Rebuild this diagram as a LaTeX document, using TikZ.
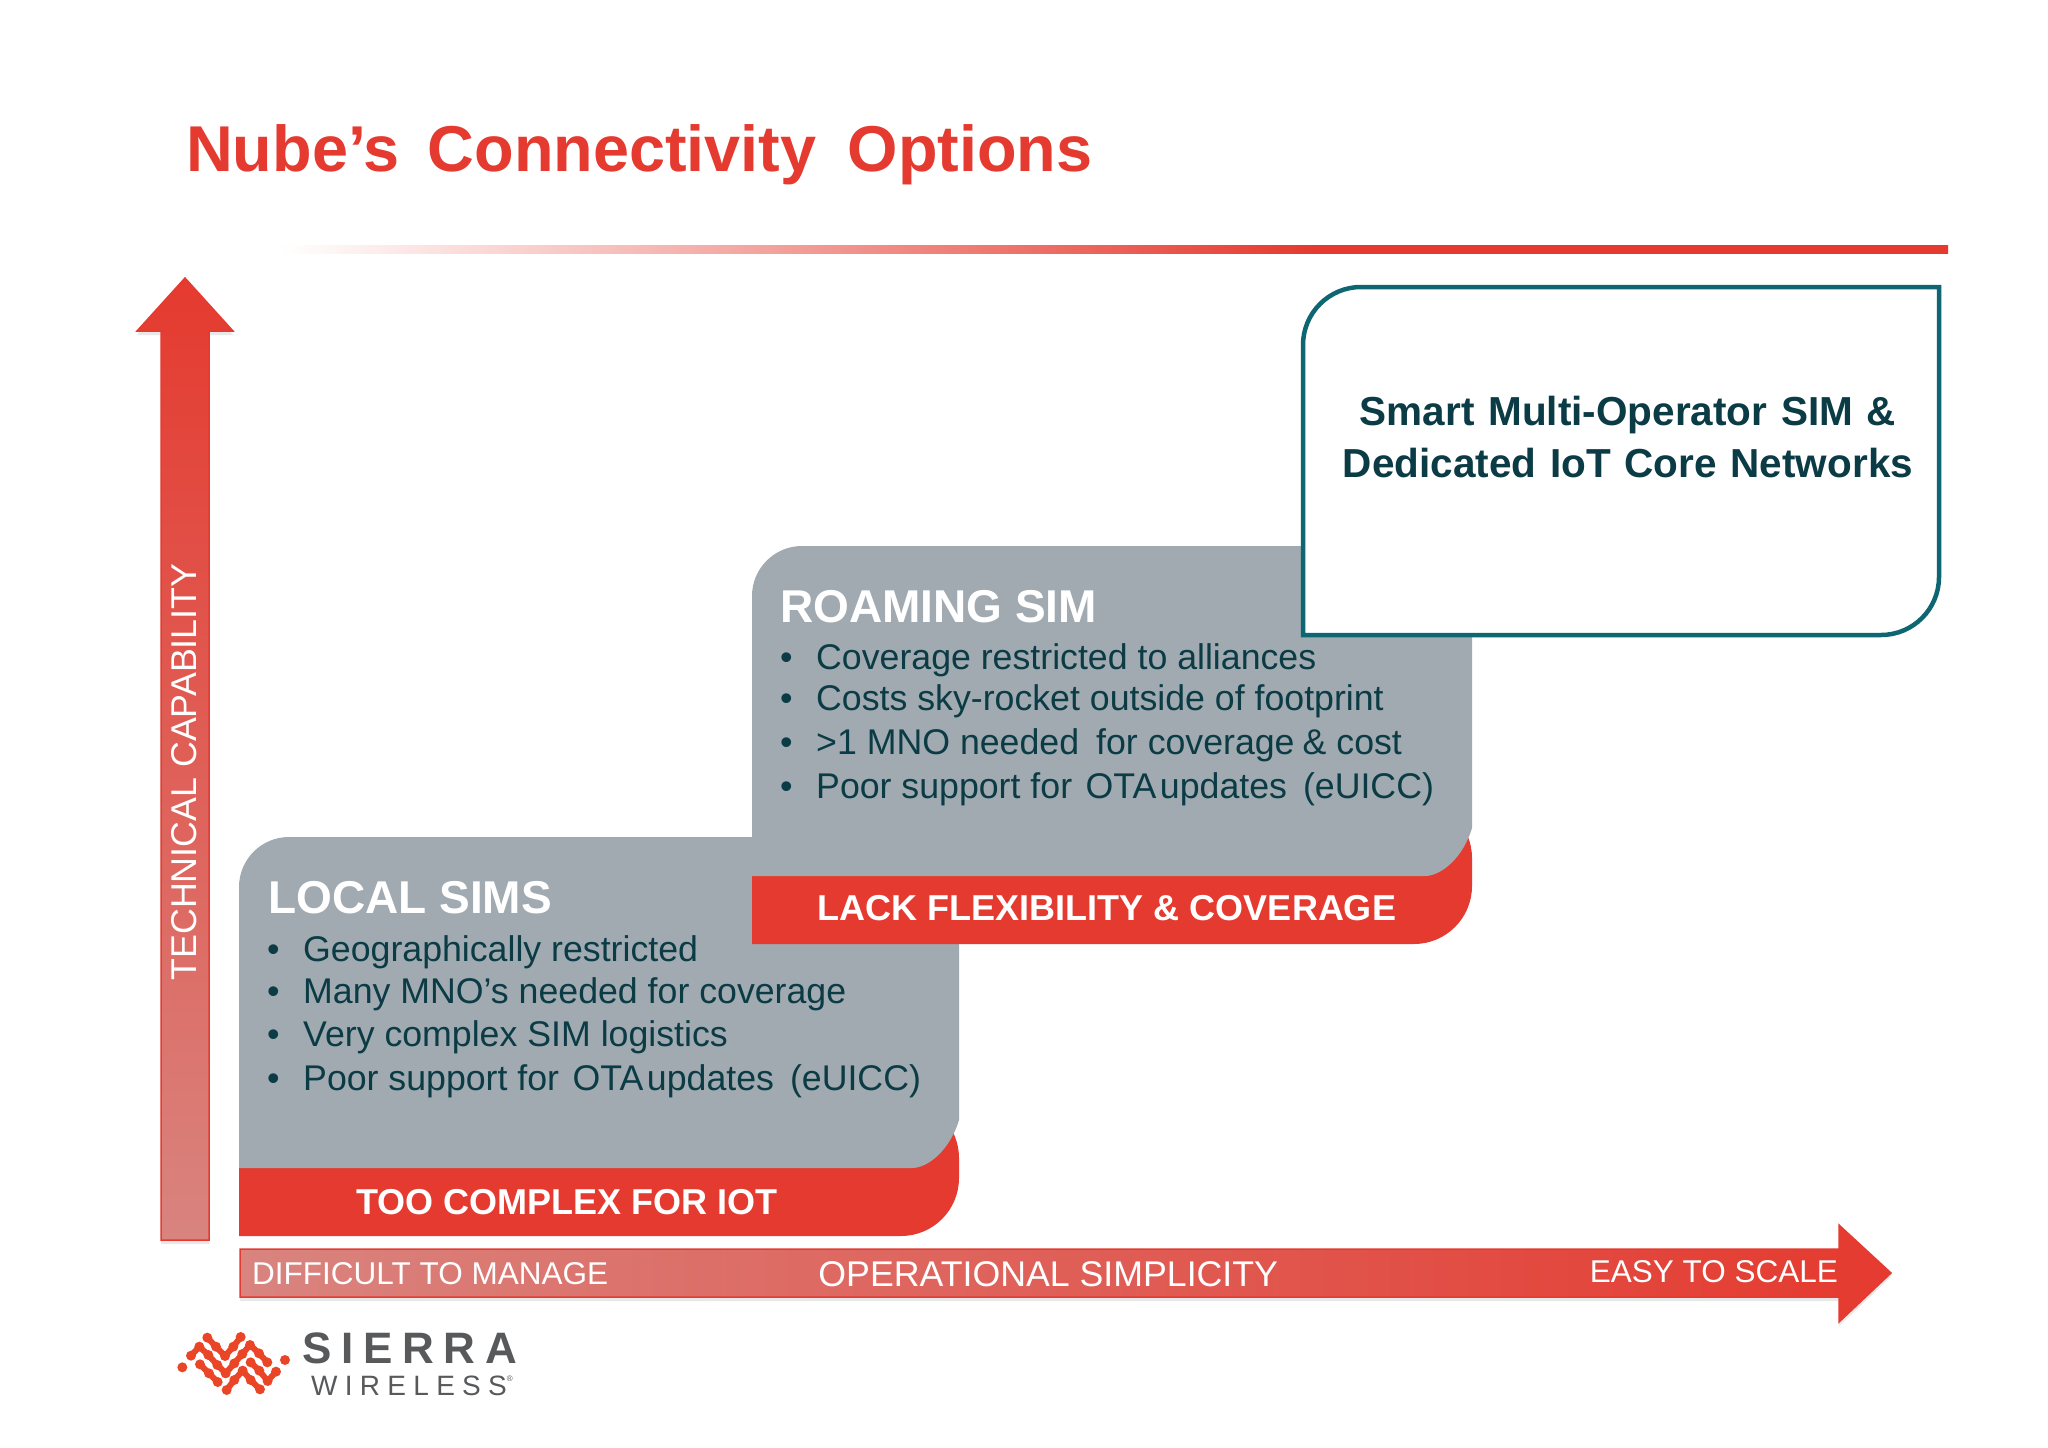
\documentclass[tikz,border=0pt]{standalone}
\usepackage{fontspec}
\setmainfont{Liberation Sans}
\newfontfamily\sierrafont[LetterSpace=22]{Liberation Sans}
\newfontfamily\wirelessfont[LetterSpace=26]{Liberation Sans}
\usepackage{xcolor}
\usetikzlibrary{positioning, shadows}

\definecolor{sierrared}{HTML}{E53A2F}
\definecolor{fadedred}{HTML}{D9847F}
\definecolor{cardgrey}{HTML}{A0AAB0}
\definecolor{darkteal}{HTML}{0B3B45}
\definecolor{lineteal}{HTML}{0F6673}
\definecolor{logogrey}{HTML}{58595B}
\definecolor{logored}{HTML}{EA4527}
\pgfdeclarehorizontalshading{rulefade}{100bp}{color(0bp)=(white); color(25bp)=(white);
  color(56bp)=(sierrared); color(100bp)=(sierrared)}
\newcommand{\titlewords}{\spaceskip=.43em\relax}
\newcommand{\smartwords}{\spaceskip=.34em\relax}

\tikzset{
  redstrip/.style={fill=sierrared},
  greycard/.style={fill=cardgrey},
  axisarrow/.style={draw=sierrared, line width=1.5pt, drop shadow={shadow xshift=0pt, shadow yshift=-4pt, opacity=.18}},
  bulletdot/.style={anchor=base west, inner sep=0pt, text=darkteal, font=\fontsize{35.7}{43}\selectfont},
  bullettext/.style={anchor=base west, inner sep=0pt, text=darkteal, font=\fontsize{35.7}{43}\selectfont},
  cardhead/.style={anchor=base west, inner sep=0pt, text=white, font=\fontsize{46}{50}\selectfont\bfseries},
  striptext/.style={inner sep=0pt, text=white, font=\fontsize{36}{40}\selectfont\bfseries},
  axistext/.style={inner sep=0pt, text=white, font=\fontsize{31.5}{36}\selectfont},
  logochain/.style={draw=logored, line width=6pt, line join=round, line cap=round},
}

\begin{document}
\begin{tikzpicture}[x=1pt, y=-1pt]
\useasboundingbox (0,0) rectangle (2048,1448);

\node[anchor=base west, inner sep=0pt, text=sierrared, font=\fontsize{64.8}{70}\selectfont\bfseries] (title) at (186,171) {\titlewords Nube’s Connectivity\hspace{.05em} Options};
\fill[shading=rulefade] (280,245) rectangle (1948,253);

% axes
\path[axisarrow, top color=sierrared, bottom color=fadedred] (161,1240) -- (161,331) -- (137,331) -- (185,278) -- (233,331) -- (209,331) -- (209,1240) -- cycle;
\path[axisarrow, left color=fadedred, right color=sierrared] (240,1249) -- (1839,1249) -- (1839,1225) -- (1891,1273) -- (1839,1322) -- (1839,1297) -- (240,1297) -- cycle;
\node[axistext, rotate=90, font=\fontsize{35.8}{40}\selectfont] (techcap) at (184,772) {TECHNICAL CAPABILITY};
\node[axistext, anchor=west] (difficult) at (252,1274) {DIFFICULT TO MANAGE};
\node[axistext, font=\fontsize{35.7}{40}\selectfont, right=210pt of difficult] (opsimple) {OPERATIONAL SIMPLICITY};
\node[axistext, anchor=east] (easy) at (1838,1272) {EASY TO SCALE};

% local sims
\fill[redstrip] (239,1100) -- (239,1236) [rounded corners=58pt] -- (959,1236) -- (959,1100) [sharp corners] -- cycle;
\fill[greycard] (239,1168) [rounded corners=50pt] -- (239,837) [sharp corners] -- (959,837) -- (959,1120) .. controls (950,1150) and (928,1168) .. (912,1168) -- cycle;
\node[cardhead] (localhead) at (268,913) {LOCAL SIMS};
\foreach \y/\txt [count=\i] in {961/Geographically restricted, 1003/Many MNO’s needed for coverage, 1046/Very complex SIM logistics, 1090/Poor support for\hspace{.1em} OTA\hspace{.1em}updates\hspace{.45em}(eUICC)}{
  \node[bulletdot, name=localdot\i] at (267,\y) {•};
  \node[bullettext, name=localtext\i] at (303,\y) {\txt};
}
\node[striptext] (toocomplex) at (567,1202) {TOO COMPLEX FOR IOT};

% roaming sim
\fill[redstrip] (752,800) -- (752,944) [rounded corners=58pt] -- (1472,944) -- (1472,800) [sharp corners] -- cycle;
\fill[greycard] (752,876) [rounded corners=50pt] -- (752,546) [sharp corners] -- (1472,546) -- (1472,828) .. controls (1463,858) and (1441,876) .. (1425,876) -- cycle;
\node[cardhead] (roamhead) at (780,622) {ROAMING SIM};
\foreach \y/\txt [count=\i] in {669/Coverage restricted to alliances, 710/Costs sky-rocket outside of footprint, 754/>1 MNO needed\hspace{.2em} for coverage\hspace{-.05em} \& cost, 798/Poor support for\hspace{.1em} OTA\hspace{.1em}updates\hspace{.45em}(eUICC)}{
  \node[bulletdot, name=roamdot\i] at (780,\y) {•};
  \node[bullettext, name=roamtext\i] at (816,\y) {\txt};
}
\node[striptext] (lackflex) at (1107,908) {LACK FLEXIBILITY \& COVERAGE};

% smart sim
\draw[line width=4.5pt, draw=lineteal, fill=white] (1303,635) [rounded corners=58pt] -- (1303,287) [sharp corners] -- (1939,287) [rounded corners=58pt] -- (1939,635) [sharp corners] -- cycle;
\node[inner sep=0pt, text=darkteal, align=center, font=\fontsize{40.5}{52}\selectfont\bfseries] (smartsim) at (1628,437) {\smartwords Smart Multi-Operator SIM \&\\\smartwords Dedicated IoT Core Networks};

% logo
\begin{scope}[shift={(130,1200)}, x=0.3333pt, y=-0.3333pt]
\draw[logochain] (232,413) -- (258,440) -- (285,468) -- (310,440) -- (332,411);
\draw[logochain] (183,467) -- (208,440) -- (235,465) -- (262,495) -- (287,520) -- (313,490) -- (337,462) -- (360,435) -- (387,460) -- (412,487);
\draw[logochain] (210,493) -- (237,520) -- (263,546);
\draw[logochain] (290,570) -- (313,540) -- (338,512) -- (362,540) -- (390,568);
\draw[logochain] (362,487) -- (388,512) -- (413,543) -- (438,515);
\foreach \px/\py in {157/502, 465/480, 232/413, 258/440, 285/468, 310/440, 332/411, 183/467, 208/440, 235/465, 262/495, 287/520, 313/490, 337/462, 360/435, 387/460, 412/487, 210/493, 237/520, 263/546, 290/570, 313/540, 338/512, 362/540, 390/568, 362/487, 388/512, 413/543, 438/515}
  \fill[logored] (\px,\py) circle[radius=15];
\end{scope}
\node[anchor=base west, inner sep=0pt, text=logogrey, font=\fontsize{44}{44}\sierrafont\bfseries] (sierra) at (302,1363) {SIERRA};
\node[anchor=base west, inner sep=0pt, text=logogrey, font=\fontsize{28}{28}\wirelessfont] (wireless) at (311,1395) {WIRELESS\raisebox{.5em}{\fontsize{8}{8}\selectfont ®}};
\end{tikzpicture}
\end{document}
